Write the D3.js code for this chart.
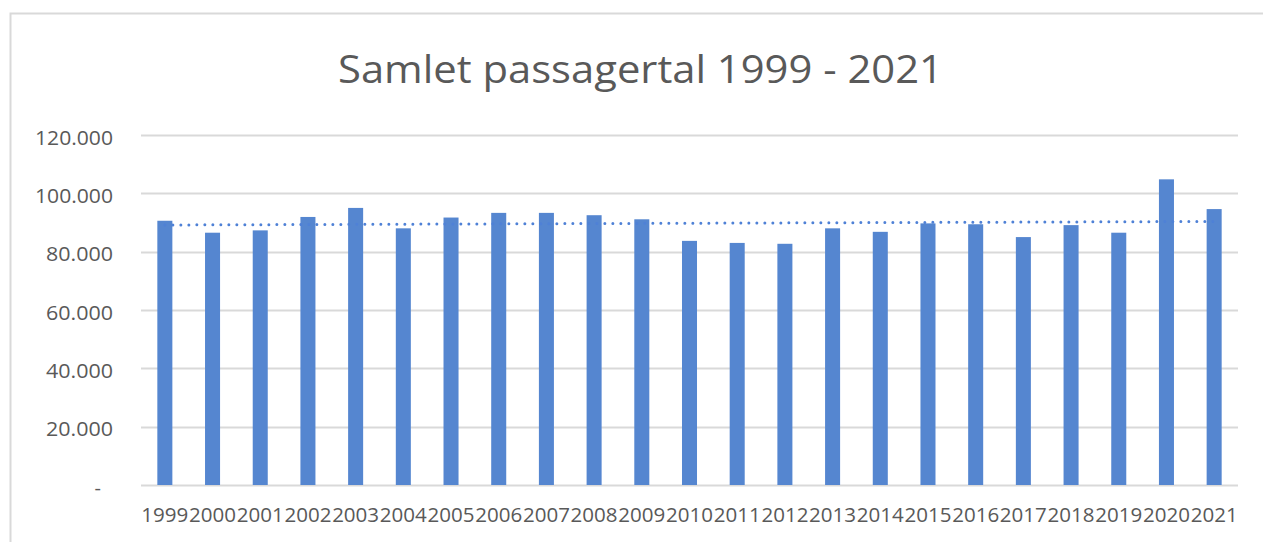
<!DOCTYPE html>
<html>
<head>
<meta charset="utf-8">
<script src="https://cdn.jsdelivr.net/npm/d3@7"></script>
<style>
	html, body { margin: 0; padding: 0; background: #fff; }
	svg { display: block; }
	text { font-family: "Open Sans", "Noto Sans", sans-serif; fill: #595959; }
</style>
</head>
<body>
<div id="chart"></div>
<script>
	// data
	var years = ['1999','2000','2001','2002','2003','2004','2005','2006','2007','2008','2009','2010',
		'2011','2012','2013','2014','2015','2016','2017','2018','2019','2020','2021'];
	var passengers = [90600, 86500, 87300, 91900, 95000, 88000, 91700, 93300, 93300, 92500, 91100, 83700,
		83000, 82700, 88000, 86800, 89700, 89400, 85000, 89100, 86500, 104800, 94600];
	var yTicks = [0, 20000, 40000, 60000, 80000, 100000, 120000];
	var title = 'Samlet passagertal 1999 - 2021';

	var width = 1263,
		height = 542,
		plot = {left: 141, right: 1238, top: 135, bottom: 485};

	var svg = d3.select('#chart')
		.append('svg')
		.attr('width', width)
		.attr('height', height)

	// chart frame (only top and left edges are in view)
	svg.append('path')
		.attr('d', 'M10.5,' + height + 'V13.5H' + width)
		.attr('fill', 'none')
		.attr('stroke', '#d9d9d9')
		.attr('stroke-width', 2)

	var x = d3.scaleBand()
		.domain(years)
		.range([plot.left, plot.right])
		.paddingInner(0.685)
		.paddingOuter(0.3425)

	var y = d3.scaleLinear()
		.domain([0, 120000])
		.range([plot.bottom, plot.top])

	var fmt = function(v) {
		return v === 0 ? '-' : d3.format(',')(v).replace(/,/g, '.');
	};

	// gridlines
	svg.append('g')
		.selectAll('line')
		.data(yTicks)
		.enter()
		.append('line')
		.attr('x1', plot.left)
		.attr('x2', plot.right)
		.attr('y1', function(d) { return Math.round(y(d)) + 0.5; })
		.attr('y2', function(d) { return Math.round(y(d)) + 0.5; })
		.attr('stroke', '#d9d9d9')
		.attr('stroke-width', 2)

	// y labels
	svg.append('g')
		.selectAll('text')
		.data(yTicks)
		.enter()
		.append('text')
		.attr('x', function(d) { return d === 0 ? 101 : 113; })
		.attr('y', function(d) { return y(d) + 2; })
		.attr('text-anchor', 'end')
		.attr('dominant-baseline', 'central')
		.style('font-size', '20px')
		.attr('textLength', function(d) { return d === 0 ? null : (d >= 100000 ? 78 : 67); })
		.attr('lengthAdjust', 'spacingAndGlyphs')
		.text(fmt)

	// bars
	svg.append('g')
		.selectAll('rect')
		.data(passengers)
		.enter()
		.append('rect')
		.attr('x', function(d, i) { return x(years[i]); })
		.attr('width', x.bandwidth())
		.attr('y', function(d) { return y(d); })
		.attr('height', function(d) { return y(0) - y(d); })
		.attr('fill', '#5586d0')

	// linear trendline
	var n = passengers.length,
		xs = d3.range(1, n + 1),
		mx = d3.mean(xs),
		my = d3.mean(passengers),
		slope = d3.sum(xs, function(v, i) { return (v - mx)*(passengers[i] - my); }) /
			d3.sum(xs, function(v) { return (v - mx)*(v - mx); }),
		icpt = my - slope*mx;

	var trend = [
		[years[0], icpt + slope*1],
		[years[n - 1], icpt + slope*n]
	];

	svg.append('path')
		.datum(trend)
		.attr('d', d3.line()
			.x(function(d) { return x(d[0]) + x.bandwidth()/2; })
			.y(function(d) { return y(d[1]); }))
		.attr('fill', 'none')
		.attr('stroke', '#4f81d6')
		.attr('stroke-width', 3)
		.attr('stroke-linecap', 'round')
		.attr('stroke-dasharray', '0 8')

	// x labels
	svg.append('g')
		.selectAll('text')
		.data(years)
		.enter()
		.append('text')
		.attr('x', function(d) { return x(d) + x.bandwidth()/2; })
		.attr('y', 522)
		.attr('text-anchor', 'middle')
		.style('font-size', '20.5px')
		.attr('textLength', 47)
		.attr('lengthAdjust', 'spacingAndGlyphs')
		.text(function(d) { return d; })

	// title
	svg.append('text')
		.attr('x', 338)
		.attr('y', 83)
		.style('font-size', '38px')
		.attr('textLength', 605)
		.attr('lengthAdjust', 'spacingAndGlyphs')
		.text(title)
</script>
</body>
</html>
